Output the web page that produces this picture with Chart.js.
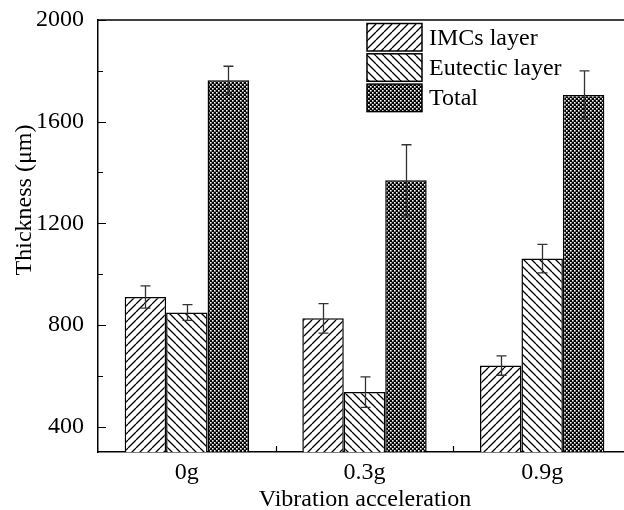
<!DOCTYPE html>
<html>
<head>
<meta charset="utf-8">
<script src="https://cdn.jsdelivr.net/npm/chart.js@4/dist/chart.umd.min.js"></script>
<style>
html,body{margin:0;padding:0;overflow:hidden;background:#fff;}
#wrap{position:absolute;left:0;top:0;width:634px;height:510px;}
</style>
</head>
<body>
<div id="wrap"><canvas id="c"></canvas></div>
<script>
const categories = ['0g', '0.3g', '0.9g'];
const seriesNames = ['IMCs layer', 'Eutectic layer', 'Total'];
const imcs = [910, 826, 640];
const imcsErr = [44, 58, 38];
const eutectic = [849, 536, 1061];
const eutecticErr = [31, 60, 56];
const total = [1763, 1369, 1705];
const totalErr = [55, 140, 95];
const yTickValues = [400, 600, 800, 1000, 1200, 1400, 1600, 1800, 2000];
const yLabelEvery = 400;

const FONT = '"Liberation Serif", "Times New Roman", serif';

function hatch(dir) {
  const s = 8;
  const c = document.createElement('canvas');
  c.width = s; c.height = s;
  const g = c.getContext('2d');
  g.fillStyle = '#fff'; g.fillRect(0, 0, s, s);
  g.strokeStyle = '#000'; g.lineWidth = 1.3;
  g.beginPath();
  if (dir === '/') {
    for (let k = -1; k <= 1; k++) { g.moveTo(k * s, s); g.lineTo(k * s + s, 0); }
  } else {
    for (let k = -1; k <= 1; k++) { g.moveTo(k * s, 0); g.lineTo(k * s + s, s); }
  }
  g.stroke();
  return g.createPattern(c, 'repeat');
}
function cross() {
  const c = document.createElement('canvas');
  c.width = 4; c.height = 4;
  const g = c.getContext('2d');
  g.fillStyle = '#000'; g.fillRect(0, 0, 4, 4);
  g.fillStyle = '#fff';
  g.fillRect(0, 0, 1.6, 1.6);
  g.fillRect(2, 2, 1.6, 1.6);
  return g.createPattern(c, 'repeat');
}
const fills = [hatch('/'), hatch('\\'), cross()];
const errs = [imcsErr, eutecticErr, totalErr];

const extras = {
  id: 'extras',
  beforeDatasetsDraw(chart) {
    const ctx = chart.ctx, a = chart.chartArea, x = chart.scales.x, y = chart.scales.y;
    ctx.save();
    ctx.strokeStyle = '#000'; ctx.lineWidth = 1.2;
    ctx.beginPath();
    yTickValues.forEach(v => {
      const py = Math.round(y.getPixelForValue(v)) + 0.5;
      const len = (v % yLabelEvery === 0) ? 8 : 5;
      ctx.moveTo(a.left, py); ctx.lineTo(a.left + len, py);
    });
    for (let i = 0; i < categories.length; i++) {
      const px = Math.round(x.getPixelForValue(i)) + 0.5;
      ctx.moveTo(px, a.bottom); ctx.lineTo(px, a.bottom - 6);
      if (i < categories.length - 1) {
        const pm = Math.round((x.getPixelForValue(i) + x.getPixelForValue(i + 1)) / 2) + 0.5;
        ctx.moveTo(pm, a.bottom); ctx.lineTo(pm, a.bottom - 6);
      }
    }
    ctx.stroke();
    ctx.restore();
  },
  afterDatasetsDraw(chart) {
    const ctx = chart.ctx, a = chart.chartArea, y = chart.scales.y;
    ctx.save();
    ctx.strokeStyle = '#333'; ctx.lineWidth = 1.3;
    chart.data.datasets.forEach((ds, di) => {
      const meta = chart.getDatasetMeta(di);
      meta.data.forEach((el, i) => {
        const v = ds.data[i], e = errs[di][i];
        const px = Math.round(el.x) + 0.5;
        const t = y.getPixelForValue(v + e), b = y.getPixelForValue(v - e);
        ctx.beginPath();
        ctx.moveTo(px, t); ctx.lineTo(px, b);
        ctx.moveTo(px - 5, t); ctx.lineTo(px + 5, t);
        ctx.moveTo(px - 5, b); ctx.lineTo(px + 5, b);
        ctx.stroke();
      });
    });
    ctx.strokeStyle = '#000'; ctx.lineWidth = 1.5;
    ctx.beginPath();
    ctx.moveTo(a.left, a.top); ctx.lineTo(a.right, a.top);
    ctx.stroke();
    const lx = 367, lw = 55, lh = 27.5, pitch = 30.3, ly0 = 23.5;
    ctx.font = '24px ' + FONT;
    ctx.textBaseline = 'middle';
    ctx.fillStyle = '#000';
    seriesNames.forEach((name, i) => {
      const ly = ly0 + i * pitch;
      ctx.fillStyle = fills[i];
      ctx.fillRect(lx, ly, lw, lh);
      ctx.strokeStyle = '#000'; ctx.lineWidth = 1.5;
      ctx.strokeRect(lx, ly, lw, lh);
      ctx.fillStyle = '#000';
      ctx.fillText(name, lx + lw + 7, ly + lh / 2 + 1);
    });
    ctx.textAlign = 'center';
    ctx.textBaseline = 'alphabetic';
    ctx.fillText('Vibration acceleration', 365, 506);
    ctx.translate(31, 200);
    ctx.rotate(-Math.PI / 2);
    ctx.fillText('Thickness (\u03bcm)', 0, 0);
    ctx.restore();
  }
};

new Chart(document.getElementById('c'), {
  type: 'bar',
  data: {
    labels: categories,
    datasets: [
      { label: seriesNames[0], data: imcs, backgroundColor: fills[0] },
      { label: seriesNames[1], data: eutectic, backgroundColor: fills[1] },
      { label: seriesNames[2], data: total, backgroundColor: fills[2] }
    ].map(d => Object.assign(d, { borderColor: '#000', borderWidth: 1.5, borderSkipped: false, categoryPercentage: 0.7, barPercentage: 1 }))
  },
  options: {
    responsive: true,
    maintainAspectRatio: false,
    devicePixelRatio: 1,
    animation: false,
    layout: { padding: { left: 0, right: 3, top: 20, bottom: 0 } },
    plugins: { legend: { display: false }, tooltip: { enabled: false } },
    scales: {
      x: {
        offset: true,
        grid: { display: false, drawTicks: false },
        border: { display: true, color: '#000', width: 1.5 },
        ticks: { color: '#000', font: { family: FONT, size: 24 }, padding: 6 },
        afterFit(s) { s.height = 58; s.paddingLeft = 0; s.paddingRight = 0; }
      },
      y: {
        min: 300, max: 2000,
        afterBuildTicks(s) { s.ticks = yTickValues.map(v => ({ value: v })); },
        grid: { display: false, drawTicks: false },
        border: { display: true, color: '#000', width: 1.5 },
        ticks: {
          color: '#000', font: { family: FONT, size: 24 }, padding: 14,
          callback: v => (v % yLabelEvery === 0 ? String(v) : '')
        },
        afterFit(s) { s.width = 98; s.paddingTop = 0; s.paddingBottom = 0; }
      }
    }
  },
  plugins: [extras]
});
</script>
</body>
</html>
